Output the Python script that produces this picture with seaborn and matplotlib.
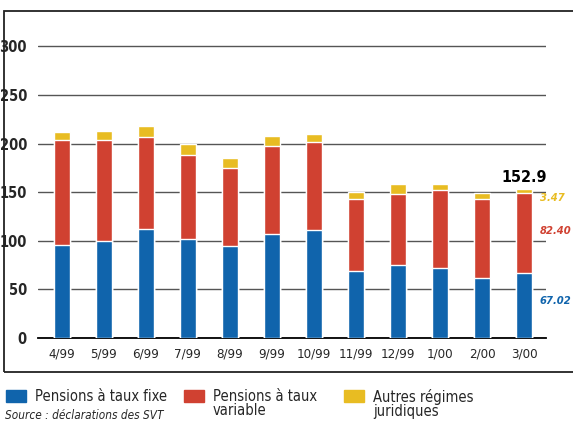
import numpy as np
import pandas as pd
import matplotlib
matplotlib.use('Agg')
import matplotlib.pyplot as plt
from matplotlib.patches import Rectangle
import seaborn as sns

# data (millions)
months = ['4/99', '5/99', '6/99', '7/99', '8/99', '9/99', '10/99',
          '11/99', '12/99', '1/00', '2/00', '3/00']
taux_fixe = [95.5, 99.9, 112.0, 101.6, 94.8, 106.8, 111.4, 68.9, 75.1, 72.3, 61.7, 67.02]
taux_variable = [108.1, 103.7, 95.0, 86.6, 80.0, 90.6, 90.2, 74.1, 73.0, 80.0, 81.3, 82.40]
autres = [8.2, 9.3, 11.0, 11.3, 10.2, 10.4, 8.3, 7.2, 10.3, 6.1, 6.2, 3.47]

BLUE = '#1064ac'
RED = '#d04131'
YELLOW = '#e8bc22'

sns.set_style('white')
plt.rcParams['font.family'] = ['DejaVu Sans']
plt.rcParams['font.stretch'] = 'condensed'

df = pd.DataFrame({'mois': months, 'fixe': taux_fixe,
                   'variable': taux_variable, 'autres': autres})
df['fv'] = df['fixe'] + df['variable']
df['total'] = df['fv'] + df['autres']

fig = plt.figure(figsize=(5.73, 4.21), dpi=100)
ax = fig.add_axes([38 / 573, 83 / 421, (546 - 38) / 573, 300 / 421])

# stacked bars drawn back to front
for col, c in [('total', YELLOW), ('fv', RED), ('fixe', BLUE)]:
    sns.barplot(data=df, x='mois', y=col, order=months, color=c,
                width=0.38, saturation=1, ax=ax, zorder=3)

ax.set_xlim(-0.56, 11.52)
ax.set_ylim(0, 308.5)
ax.set_yticks([0, 50, 100, 150, 200, 250, 300])
ax.yaxis.grid(True, color='#555555', linewidth=1.0, zorder=0)
ax.set_axisbelow(True)
for s in ['top', 'right', 'left']:
    ax.spines[s].set_visible(False)
ax.spines['bottom'].set_color('black')
ax.spines['bottom'].set_linewidth(1.3)
ax.set_xlabel('')
ax.set_ylabel('')
ax.tick_params(axis='y', length=0, pad=8, labelsize=10.5)
ax.tick_params(axis='x', length=0, pad=7, labelsize=9.5)
for t in ax.get_yticklabels():
    t.set_fontweight('bold')

# labels for the last month
last = len(months) - 1
ax.text(last, df['total'].iloc[-1] + 4, '152.9', ha='center', va='bottom',
        fontsize=11.5, fontweight='bold', color='black')
for yv, txt, c in [(144, '3.47', YELLOW), (110, '82.40', RED), (38, '67.02', BLUE)]:
    ax.annotate(txt, xy=(1.0, yv), xycoords=ax.get_yaxis_transform(),
                xytext=(-6, 0), textcoords='offset pixels', ha='left',
                fontsize=8, style='italic', fontweight='bold', color=c, va='center')

# open frame (no right edge)
fig.patches.append(Rectangle((4 / 573, (421 - 372) / 421), 1.0, (372 - 11) / 421,
                             transform=fig.transFigure, fill=False,
                             edgecolor='#222222', linewidth=1.3))

# legend at the bottom
legend_items = [(6, BLUE, 'Pensions à taux fixe'),
                (184, RED, 'Pensions à taux\nvariable'),
                (344, YELLOW, 'Autres régimes\njuridiques')]
for x0, c, lab in legend_items:
    fig.patches.append(Rectangle((x0 / 573, (421 - 402) / 421), 20 / 573, 12 / 421,
                                 transform=fig.transFigure, color=c))
    fig.text((x0 + 29) / 573, (421 - 389) / 421, lab, ha='left', va='top',
             fontsize=10.5, linespacing=0.95)

fig.text(5 / 573, (421 - 409) / 421, 'Source : déclarations des SVT', ha='left',
         va='top', fontsize=8.5, style='italic')

fig.savefig('out.png', dpi=100)
